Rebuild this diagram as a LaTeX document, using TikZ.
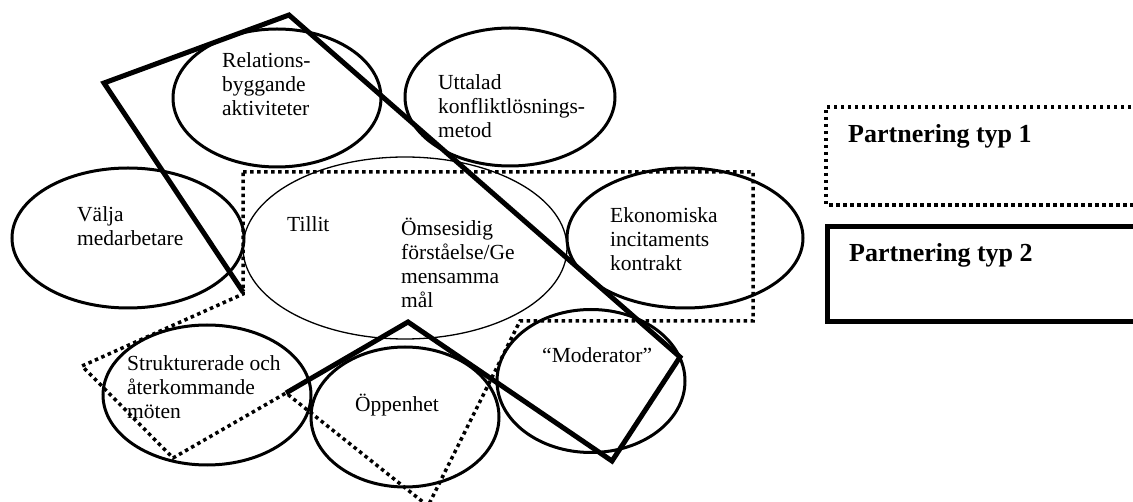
\documentclass[tikz,border=0pt]{standalone}
\usepackage{fontspec}
\setmainfont{Liberation Serif}
\usetikzlibrary{shapes.geometric}

\begin{document}
\begin{tikzpicture}[
    x=1pt, y=-1pt, % pixel grid, y runs downwards
    every node/.style={inner sep=0pt, font=\fontsize{21.5}{24}\selectfont},
    oval/.style={ellipse, draw, line width=3pt},
    thinoval/.style={ellipse, draw, line width=1.3pt},
    txt/.style={align=left, anchor=base west}, % base = last line
    legtxt/.style={anchor=base west, font=\fontsize{26}{30}\selectfont\bfseries},
    typeone/.style={line width=3.5pt, dash pattern=on 3.5pt off 3.5pt}, % dotted
    typetwo/.style={line width=5pt, line join=miter}                    % solid
  ]
\clip (0,0) rectangle (1133,502);

% ellipses
\node[oval, minimum width=208pt, minimum height=138pt] (rel) at (277,98) {};
\node[oval, minimum width=210pt, minimum height=138pt] (utt) at (510,97) {};
\node[oval, minimum width=232pt, minimum height=140pt] (val) at (128,238) {};
\node[thinoval, minimum width=324pt, minimum height=182pt] (mid) at (405,248) {};
\node[oval, minimum width=236pt, minimum height=140pt] (eko) at (685,238) {};
\node[oval, minimum width=208pt, minimum height=140pt] (str) at (207,395) {};
\node[oval, minimum width=188pt, minimum height=140pt] (opp) at (405,417) {};
\node[oval, minimum width=188pt, minimum height=143pt] (mod) at (591,381) {};

% texts
\node[txt] (relT) at (222,116) {Relations-\\byggande\\aktiviteter};
\node[txt] (uttT) at (438,138) {Uttalad\\konfliktlösnings-\\metod};
\node[txt] (valT) at (77,246) {Välja\\medarbetare};
\node[txt] (tilT) at (287,232) {Tillit};
\node[txt] (omsT) at (401,308) {Ömsesidig\\förståelse/Ge\\mensamma\\mål};
\node[txt] (ekoT) at (610,271) {Ekonomiska\\incitaments\\kontrakt};
\node[txt] (strT) at (127,419) {Strukturerade och\\återkommande\\möten};
\node[txt] (oppT) at (355,412) {Öppenhet};
\node[txt] (modT) at (542,363) {``Moderator''};

% partnering typ 1
\coordinate (a1) at (243,172);
\coordinate (a2) at (753,172);
\coordinate (a3) at (753,321);
\coordinate (a4) at (520,321);
\coordinate (a5) at (428,506);
\coordinate (a6) at (286,393);
\coordinate (a7) at (173,458);
\coordinate (a8) at (82,366);
\coordinate (a9) at (243,294);
\draw[typeone] (a1) -- (a2) -- (a3) -- (a4) -- (a5) -- (a6) -- (a7) -- (a8) -- (a9) -- cycle;

% partnering typ 2
\coordinate (b1) at (243,292);
\coordinate (b2) at (104,83);
\coordinate (b3) at (289,15);
\coordinate (b4) at (680,357);
\coordinate (b5) at (612,461);
\coordinate (b6) at (408,322);
\coordinate (b7) at (286,393);
\draw[typetwo] (b1) -- (b2) -- (b3) -- (b4) -- (b5) -- (b6) -- (b7);

% legend
\draw[typeone] (1145,107) -- (826,107) -- (826,205) -- (1145,205);
\draw[typetwo] (1145,227) -- (827,227) -- (827,322) -- (1145,322);
\node[legtxt] (leg1) at (848,143) {Partnering typ 1};
\node[legtxt] (leg2) at (849,262) {Partnering typ 2};
\end{tikzpicture}
\end{document}
